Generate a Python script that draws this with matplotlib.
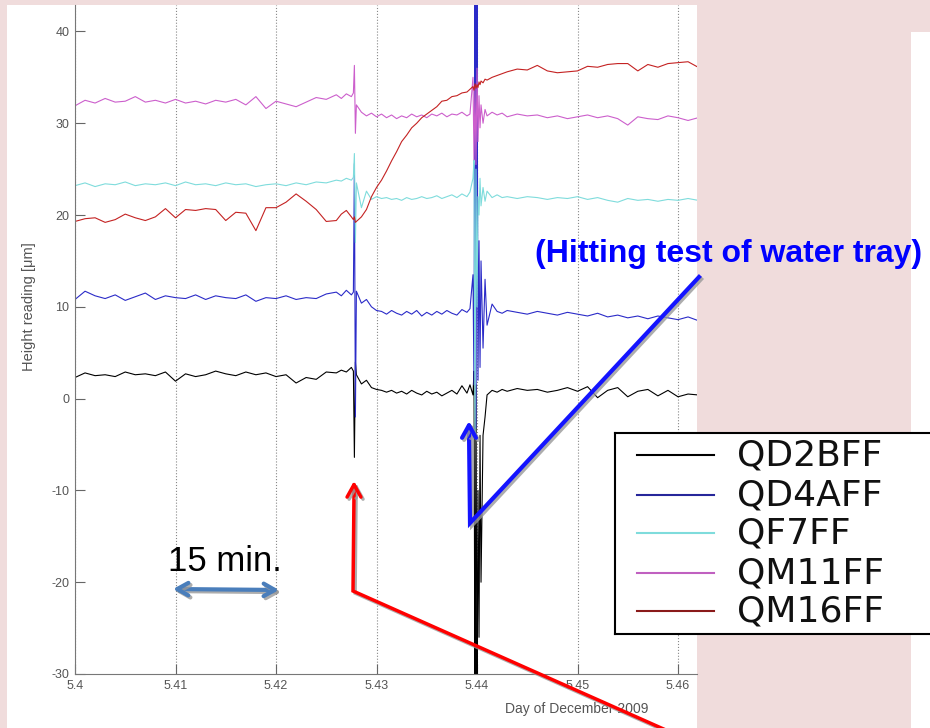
import matplotlib.pyplot as plt
import matplotlib.patheffects as pe
from matplotlib.patches import Rectangle

plt.rcParams['font.family'] = ['Liberation Sans', 'DejaVu Sans']
plt.rcParams['axes.unicode_minus'] = False

# time axis (day of December 2009), denser around the two hits
day = [5.400, 5.401, 5.402, 5.403, 5.404, 5.405, 5.406, 5.407, 5.408, 5.409,
       5.410, 5.411, 5.412, 5.413, 5.414, 5.415, 5.416, 5.417, 5.418, 5.419,
       5.420, 5.421, 5.422, 5.423, 5.424, 5.425, 5.426,
       5.4265, 5.427, 5.4275, 5.4277, 5.4278, 5.4279, 5.428, 5.4285, 5.429, 5.4295,
       5.430, 5.4305, 5.431, 5.4315, 5.432, 5.4325, 5.433, 5.4335, 5.434, 5.4345,
       5.435, 5.4355, 5.436, 5.4365, 5.437, 5.4375, 5.438, 5.4385, 5.439, 5.4393,
       5.4396, 5.4397, 5.4398, 5.4399, 5.4400, 5.4401, 5.4402, 5.4403, 5.4404, 5.4406,
       5.4408, 5.441, 5.4415, 5.442, 5.4425, 5.443, 5.444, 5.445, 5.446, 5.447,
       5.448, 5.449, 5.450, 5.451, 5.452, 5.453, 5.454, 5.455, 5.456, 5.457,
       5.458, 5.459, 5.460, 5.461, 5.462]

qd2bff = [2.3, 2.8, 2.5, 2.6, 2.4, 2.9, 2.6, 2.7, 2.5, 2.9,
          1.9, 2.7, 2.4, 2.6, 3.0, 2.7, 2.5, 2.9, 2.6, 2.8,
          2.4, 2.6, 1.7, 2.3, 2.1, 2.9, 2.8,
          3.1, 2.9, 3.4, 3.0, -6.4, 4.0, 2.6, 1.6, 2.0, 1.2,
          1.0, 0.9, 0.7, 0.9, 0.6, 0.8, 0.5, 0.9, 0.6, 0.4,
          0.8, 0.5, 0.7, 0.3, 0.6, 0.9, 0.5, 1.4, 0.6, 1.5,
          0.4, 3.0, -36, 1.5, -36, -10, -26, -4, -20, -4,
          -2.0, 0.4, 0.9, 0.7, 1.0, 0.8, 1.1, 0.9, 1.0, 0.7,
          0.9, 1.2, 0.8, 1.3, 0.1, 0.9, 1.2, 0.2, 0.8, 1.0,
          0.3, 0.9, 0.2, 0.5, 0.4]

qd4aff = [10.8, 11.7, 11.2, 10.9, 11.3, 10.7, 11.1, 11.5, 10.8, 11.2,
          11.0, 10.9, 11.3, 10.8, 11.2, 11.0, 10.9, 11.3, 10.6, 11.0,
          10.9, 11.2, 10.8, 11.0, 10.9, 11.4, 11.6,
          11.2, 11.8, 11.3, 11.6, 25.6, -2.0, 11.7, 10.4, 10.8, 10.0,
          9.6, 9.5, 9.2, 9.6, 9.3, 9.1, 9.5, 9.2, 9.6, 9.0,
          9.4, 9.1, 9.5, 9.2, 9.6, 9.3, 9.1, 9.7, 9.4, 9.8,
          13.5, 1.5, 48, -3.2, 45, 2.0, 17.2, 3.4, 15, 5.5,
          13.0, 8.0, 10.3, 9.5, 9.3, 9.6, 9.4, 9.2, 9.5, 9.3,
          9.1, 9.4, 9.2, 9.0, 9.3, 8.9, 9.1, 8.8, 9.0, 8.7,
          9.0, 8.8, 8.6, 8.9, 8.5]

qf7ff = [23.2, 23.5, 23.1, 23.4, 23.3, 23.6, 23.2, 23.4, 23.3, 23.5,
         23.2, 23.6, 23.3, 23.4, 23.2, 23.5, 23.3, 23.4, 23.1, 23.3,
         23.4, 23.2, 23.5, 23.3, 23.6, 23.5, 23.8,
         23.7, 24.0, 23.8, 24.1, 26.7, 17.0, 23.5, 20.8, 22.6, 21.7,
         22.0, 21.8, 21.9, 21.7, 21.8, 21.6, 21.9, 21.7, 21.8, 22.0,
         21.8, 21.9, 22.1, 21.8, 22.0, 22.2, 21.9, 22.3, 22.0, 22.5,
         24.0, 26.0, -4.0, 25.0, 10.0, 22.0, 20.0, 24.0, 21.0, 23.0,
         21.5, 22.6, 21.9, 22.2, 21.9, 22.0, 21.8, 22.0, 21.9, 21.7,
         21.9, 21.8, 22.0, 21.7, 21.9, 21.6, 21.4, 21.8, 21.6, 21.7,
         21.5, 21.7, 21.6, 21.8, 21.6]

qm11ff = [31.9, 32.5, 32.2, 32.7, 32.3, 32.4, 32.9, 32.3, 32.5, 32.2,
          32.6, 32.2, 32.4, 32.1, 32.5, 32.3, 32.6, 32.0, 32.9, 31.6,
          32.4, 32.1, 31.8, 32.3, 32.8, 32.6, 33.1,
          32.7, 33.2, 32.9, 33.3, 36.3, 28.9, 32.0, 31.2, 30.8, 31.1,
          30.7, 31.0, 30.6, 30.9, 30.5, 30.8, 30.6, 31.0, 30.7, 30.9,
          30.6, 31.0, 30.8, 31.1, 30.7, 31.0, 30.9, 31.2, 30.8, 31.0,
          35.0, 26.0, 34.0, 25.5, 36.0, 28.0, 33.0, 29.5, 32.0, 30.0,
          31.5, 30.8, 31.2, 30.9, 31.1, 30.7, 31.0, 30.8, 30.9, 30.6,
          30.8, 30.5, 30.7, 30.9, 30.6, 30.8, 30.5, 29.8, 30.7, 30.5,
          30.4, 30.8, 30.6, 30.3, 30.6]

qm16ff = [19.3, 19.6, 19.7, 19.2, 19.5, 20.1, 19.7, 19.4, 19.8, 20.7,
          19.7, 20.6, 20.5, 20.7, 20.6, 19.4, 20.3, 20.2, 18.3, 20.8,
          20.8, 21.4, 22.3, 21.5, 20.6, 19.3, 19.4,
          20.1, 20.5, 19.8, 19.5, 19.8, 19.2, 19.3, 19.8, 20.6, 22.0,
          23.0, 23.8, 24.8, 25.9, 26.9, 28.0, 28.7, 29.5, 30.0, 30.6,
          31.0, 31.4, 31.8, 32.4, 32.5, 32.9, 33.0, 33.3, 33.4, 33.7,
          34.0, 33.6, 34.3, 33.8, 34.2, 33.9, 34.5, 34.2, 34.6, 34.4,
          34.8, 34.7, 35.0, 35.2, 35.4, 35.6, 35.9, 35.8, 36.3, 35.7,
          35.5, 35.6, 35.7, 36.2, 36.1, 36.4, 36.5, 36.5, 35.7, 36.4,
          36.1, 36.5, 36.6, 36.7, 36.1]

names = ['QD2BFF', 'QD4AFF', 'QF7FF', 'QM11FF', 'QM16FF']
series = [qd2bff, qd4aff, qf7ff, qm11ff, qm16ff]
colors = ['#000000', '#2b2bc8', '#7fdcdc', '#cc5fcc', '#c42222']
legend_colors = ['#000000', '#26269a', '#7fdcdc', '#c060c0', '#8a1a1a']

x_ticks = [5.40, 5.41, 5.42, 5.43, 5.44, 5.45, 5.46]
x_tick_labels = ['5.4', '5.41', '5.42', '5.43', '5.44', '5.45', '5.46']
y_ticks = [-30, -20, -10, 0, 10, 20, 30, 40]

W, H = 930, 728
PINK = '#f0dcdc'


def frac(x0, y0, x1, y1):
    # pixel box (top-left origin) -> figure fraction rect
    return [x0 / W, 1 - y1 / H, (x1 - x0) / W, (y1 - y0) / H]


fig = plt.figure(figsize=(9.3, 7.28), dpi=100, facecolor=PINK)

# slide background panels
bg = fig.add_axes([0, 0, 1, 1], zorder=0)
bg.set_xlim(0, W)
bg.set_ylim(H, 0)
bg.axis('off')
bg.add_patch(Rectangle((7, 5), 690, 723, fc='white', ec='none'))
bg.add_patch(Rectangle((911, 32), 19, 696, fc='white', ec='none'))

# main plot
ax = fig.add_axes(frac(75, 5, 697, 674), zorder=1)
for vals, c in zip(series, colors):
    ax.plot(day, vals, color=c, lw=0.8)
ax.set_xlim(5.4, 5.46189)
ax.set_ylim(-30, 42.88)
ax.set_xticks(x_ticks)
ax.set_xticklabels(x_tick_labels)
ax.set_yticks(y_ticks)
ax.tick_params(direction='in', length=7, width=0.8, color='#666666',
               labelcolor='#555555', labelsize=9, pad=4)
ax.spines['top'].set_visible(False)
ax.spines['right'].set_visible(False)
for s in ['left', 'bottom']:
    ax.spines[s].set_color('#777777')
    ax.spines[s].set_linewidth(0.8)
ax.grid(axis='x', linestyle=':', color='#888888', lw=0.8)
ax.set_xlabel('Day of December 2009', fontsize=10, color='#555555')
ax.xaxis.set_label_coords(0.807, -0.042)
ax.set_ylabel('Height reading [μm]', fontsize=10.5, color='#555555')
ax.yaxis.set_label_coords(-0.062, 0.549)

# legend box
lg = fig.add_axes(frac(615, 433, 945, 634), zorder=2)
lg.set_xlim(615, 945)
lg.set_ylim(634, 433)
lg.set_xticks([])
lg.set_yticks([])
for s in lg.spines.values():
    s.set_color('black')
    s.set_linewidth(1.5)
rows = [455, 495, 533, 573, 611]
for y, name, c in zip(rows, names, legend_colors):
    lg.plot([637, 714], [y, y], color=c, lw=1.5)
    lg.text(737, y + 1, name, va='center', fontsize=26, family='DejaVu Sans',
            color='#111111')

# annotations on top
ov = fig.add_axes([0, 0, 1, 1], zorder=3)
ov.set_xlim(0, W)
ov.set_ylim(H, 0)
ov.axis('off')
shadow = [pe.SimpleLineShadow(offset=(1.5, -1.5), shadow_color='#999999', alpha=0.8),
          pe.Normal()]

# red arrow (first hit)
ov.plot([668, 353, 354], [731, 591, 492], color='#ff0000', lw=2.5,
        solid_joinstyle='miter', path_effects=shadow)
a = ov.annotate('', xy=(354, 481), xytext=(354, 496),
                arrowprops=dict(arrowstyle='->,head_length=0.9,head_width=0.5',
                                color='#ff0000', lw=2.5, shrinkA=0, shrinkB=0,
                                mutation_scale=10))
a.arrow_patch.set_path_effects(shadow)

# blue arrow (second hit)
ov.plot([699, 470, 469], [277, 523, 432], color='#1414ff', lw=3,
        solid_joinstyle='miter', path_effects=shadow)
a = ov.annotate('', xy=(469, 421), xytext=(469, 436),
                arrowprops=dict(arrowstyle='->,head_length=0.9,head_width=0.5',
                                color='#1414ff', lw=3, shrinkA=0, shrinkB=0,
                                mutation_scale=10))
a.arrow_patch.set_path_effects(shadow)

# 15 min scale
a = ov.annotate('', xy=(279, 590), xytext=(173, 589),
                arrowprops=dict(arrowstyle='<->,head_length=0.8,head_width=0.45',
                                color='#4a7ebb', lw=3, shrinkA=0, shrinkB=0,
                                mutation_scale=10))
a.arrow_patch.set_path_effects(shadow)
ov.text(168, 571, '15 min.', fontsize=25, va='baseline', ha='left', color='black')

ov.text(535, 262, '(Hitting test of water tray)', fontsize=23, fontweight='bold',
        color='#0000ff', va='baseline', ha='left')

fig.savefig('out.png', dpi=100, facecolor=PINK)
